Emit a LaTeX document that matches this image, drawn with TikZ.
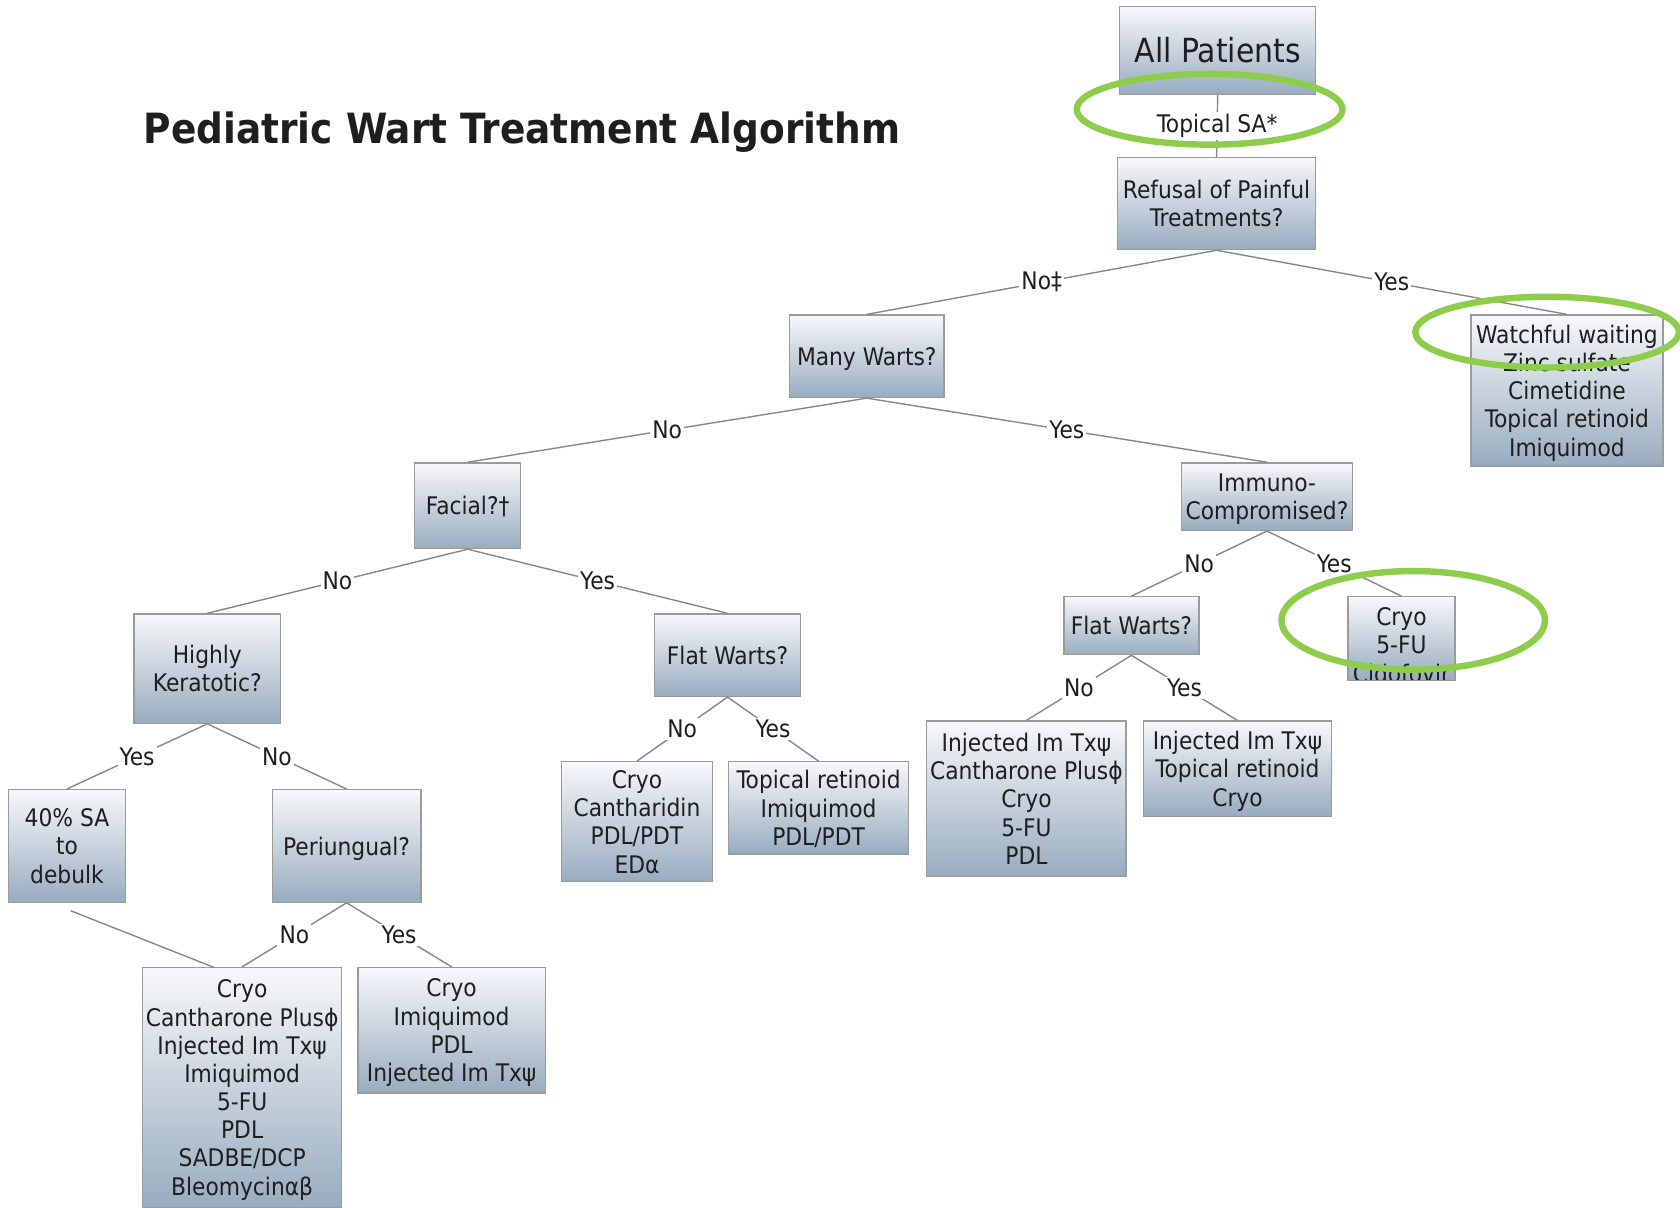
\documentclass[tikz,border=0pt]{standalone}
\usepackage{fontspec}
\setmainfont{DejaVu Sans Condensed}
\usepackage{graphicx}
\definecolor{boxtop}{RGB}{247,248,250}
\definecolor{boxbot}{RGB}{152,172,191}
\definecolor{boxline}{RGB}{155,155,155}
\definecolor{conncol}{RGB}{135,135,135}
\definecolor{txtcol}{RGB}{30,30,30}
\definecolor{hl}{RGB}{141,205,75}
\newcommand{\bodyfont}{\fontsize{22.6}{26.3}\selectfont}
\tikzset{
  box/.style={draw=boxline, line width=1.2pt, top color=boxtop, bottom color=boxbot,
    align=center, inner sep=0pt, text depth=0pt, text=txtcol, font=\bodyfont},
  conn/.style={draw=conncol, line width=1.3pt},
  lbl/.style={fill=white, inner sep=2pt, text=txtcol, font=\bodyfont},
  ring/.style={draw=hl, line width=6pt}
}
\begin{document}
\begin{tikzpicture}[x=1pt, y=-1pt]
\useasboundingbox (0,0) rectangle (1568,1127);
% title
\node[anchor=base west, inner sep=0pt, text=txtcol, font=\bfseries\fontsize{38}{44}\selectfont] (title) at (134,134)
  {\resizebox{706pt}{!}{Pediatric Wart Treatment Algorithm}};
% boxes
\node[box, minimum width=183, minimum height=82, font=\fontsize{31}{36}\selectfont] (ap) at (1136.5,47) {All Patients};
\node[box, minimum width=185, minimum height=86] (ref) at (1135.5,190) {Refusal of Painful\\Treatments?};
\node[box, minimum width=144, minimum height=77] (many) at (809,332.5) {Many Warts?};
\node[box, minimum width=179, minimum height=141] (watch) at (1462.5,364.5) {Watchful waiting\\Zinc sulfate\\Cimetidine\\Topical retinoid\\Imiquimod};
\node[box, minimum width=99, minimum height=80] (facial) at (436.5,472) {Facial?†};
\node[box, minimum width=159, minimum height=63] (immuno) at (1182.5,463.5) {Immuno-\\Compromised?};
\node[box, minimum width=137, minimum height=102] (highly) at (193.5,624) {Highly\\Keratotic?};
\node[box, minimum width=136, minimum height=77] (flatm) at (679,611.5) {Flat Warts?};
\node[box, minimum width=126, minimum height=54] (flatr) at (1056,584) {Flat Warts?};
\node[box, minimum width=100, minimum height=78,
  path picture={\node[inner sep=0pt, align=center, text depth=0pt, text=txtcol, font=\bodyfont, yshift=-6pt] (cryotext) at (path picture bounding box.center) {Cryo\\5-FU\\Cidofovir};}] (cryo5) at (1308,596) {};
\node[box, minimum width=109, minimum height=105] (sa40) at (62.5,789.5) {40\% SA\\to\\debulk};
\node[box, minimum width=139, minimum height=105] (peri) at (323.5,789.5) {Periungual?};
\node[box, minimum width=141, minimum height=112] (fmno) at (594.5,767) {Cryo\\Cantharidin\\PDL/PDT\\EDα};
\node[box, minimum width=168, minimum height=86] (fmyes) at (764,754) {Topical retinoid\\Imiquimod\\PDL/PDT};
\node[box, minimum width=186, minimum height=145] (frno) at (958,745.5) {Injected Im Txψ\\Cantharone Plusϕ\\Cryo\\5-FU\\PDL};
\node[box, minimum width=176, minimum height=89] (fryes) at (1155,717.5) {Injected Im Txψ\\Topical retinoid\\Cryo};
\node[box, minimum width=186, minimum height=224] (pno) at (226,1015) {Cryo\\Cantharone Plusϕ\\Injected Im Txψ\\Imiquimod\\5-FU\\PDL\\SADBE/DCP\\Bleomycinαβ};
\node[box, minimum width=175, minimum height=117] (pyes) at (421.5,961.5) {Cryo\\Imiquimod\\PDL\\Injected Im Txψ};
% connectors
\draw[conn] (ap.south) -- node[lbl] {Topical SA*} (ref.north);
\draw[conn] (ref.south) -- node[lbl] {No‡} (many.north);
\draw[conn] (ref.south) -- node[lbl] {Yes} (watch.north);
\draw[conn] (many.south) -- node[lbl] {No} (facial.north);
\draw[conn] (many.south) -- node[lbl] {Yes} (immuno.north);
\draw[conn] (facial.south) -- node[lbl] {No} (highly.north);
\draw[conn] (facial.south) -- node[lbl] {Yes} (flatm.north);
\draw[conn] (immuno.south) -- node[lbl] {No} (flatr.north);
\draw[conn] (immuno.south) -- node[lbl] {Yes} (cryo5.north);
\draw[conn] (highly.south) -- node[lbl] {Yes} (sa40.north);
\draw[conn] (highly.south) -- node[lbl] {No} (peri.north);
\draw[conn] (flatm.south) -- node[lbl] {No} (fmno.north);
\draw[conn] (flatm.south) -- node[lbl] {Yes} (fmyes.north);
\draw[conn] (flatr.south) -- node[lbl] {No} (frno.north);
\draw[conn] (flatr.south) -- node[lbl] {Yes} (fryes.north);
\draw[conn] (peri.south) -- node[lbl] {No} (pno.north);
\draw[conn] (peri.south) -- node[lbl] {Yes} (pyes.north);
\coordinate (satail) at (66,850);
\coordinate (pnoin) at (200,903);
\draw[conn] (satail) -- (pnoin);
% highlight rings
\draw[ring] (1129,102) ellipse [x radius=124, y radius=33];
\draw[ring] (1444,310) ellipse [x radius=123, y radius=33];
\draw[ring] (1319,579) ellipse [x radius=123, y radius=46];
\end{tikzpicture}
\end{document}
